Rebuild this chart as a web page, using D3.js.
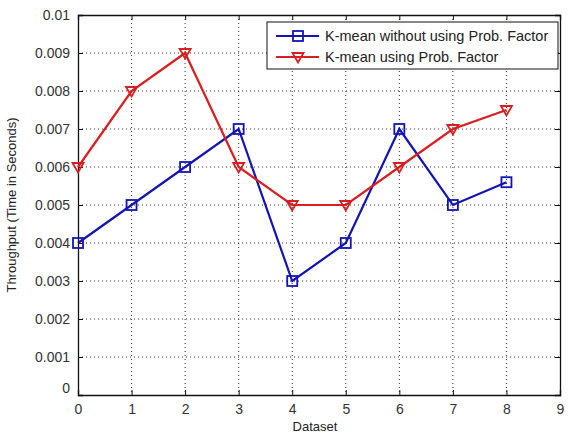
<!doctype html>
<html lang="en">
<head>
    <script src="https://d3js.org/d3.v7.min.js"></script>
    <style type="text/css">
        html, body {
            margin: 0;
            padding: 0;
            background: #fff;
        }
        svg text {
            font-family: "Liberation Sans", Arial, sans-serif;
            fill: #222;
        }
    </style>
</head>
<body>
<svg id="svg" width="568" height="436"></svg>
<script>
    // values
    var datasets = [0, 1, 2, 3, 4, 5, 6, 7, 8];
    var withoutProb = [0.004, 0.005, 0.006, 0.007, 0.003, 0.004, 0.007, 0.005, 0.0056];
    var withProb = [0.006, 0.008, 0.009, 0.006, 0.005, 0.005, 0.006, 0.007, 0.0075];
    var xTicks = [0, 1, 2, 3, 4, 5, 6, 7, 8, 9];
    var yTicks = [0, 0.001, 0.002, 0.003, 0.004, 0.005, 0.006, 0.007, 0.008, 0.009, 0.01];
    var seriesNames = ["K-mean without using Prob. Factor", "K-mean using Prob. Factor"];

    var blue = "#1414b4";
    var red = "#d81e1e";

    var svg = d3.select("#svg");
    // plot box (note: "top" would clash with window.top)
    var pl = 78, pr = 560, pt = 15, pb = 395;

    var x = d3.scaleLinear().domain([0, 9]).range([pl, pr]);
    var y = d3.scaleLinear().domain([0, 0.01]).range([pb, pt]);

    // dotted grid
    var grid = svg.append("g");
    grid.selectAll(".gx").data(xTicks.slice(1, -1)).enter().append("line")
        .attr("x1", function (d) { return x(d); })
        .attr("x2", function (d) { return x(d); })
        .attr("y1", pt).attr("y2", pb)
        .attr("stroke", "#333").attr("stroke-width", 1)
        .attr("stroke-dasharray", "1,3");
    grid.selectAll(".gy").data(yTicks.slice(1, -1)).enter().append("line")
        .attr("y1", function (d) { return y(d); })
        .attr("y2", function (d) { return y(d); })
        .attr("x1", pl).attr("x2", pr)
        .attr("stroke", "#333").attr("stroke-width", 1)
        .attr("stroke-dasharray", "1,3");

    // axes (ticks inside, MATLAB style)
    var fmtY = function (d) { return d === 0 ? "0" : String(+d.toFixed(3)); };
    var xAxis = svg.append("g").attr("transform", "translate(0," + pb + ")")
        .call(d3.axisBottom(x).tickValues(xTicks).tickSize(-5).tickPadding(9).tickFormat(d3.format("d")));
    var xTop = svg.append("g").attr("transform", "translate(0," + pt + ")")
        .call(d3.axisTop(x).tickValues(xTicks).tickSize(-5).tickFormat(""));
    var yAxis = svg.append("g").attr("transform", "translate(" + pl + ",0)")
        .call(d3.axisLeft(y).tickValues(yTicks).tickSize(-5).tickPadding(8).tickFormat(fmtY));
    var yRight = svg.append("g").attr("transform", "translate(" + pr + ",0)")
        .call(d3.axisRight(y).tickValues(yTicks).tickSize(-5).tickFormat(""));

    [xAxis, xTop, yAxis, yRight].forEach(function (g) {
        g.selectAll("path").attr("stroke", "#111").attr("stroke-width", 1.3);
        g.selectAll("line").attr("stroke", "#111");
        g.selectAll("text").style("font-size", "14px").style("fill", "#333")
            .style("font-family", "'Liberation Sans', Arial, sans-serif");
    });
    yAxis.selectAll(".tick").filter(function (d) { return d === 0; }).select("text").attr("dy", "-0.15em");

    // axis labels
    svg.append("text").attr("x", (pl + pr) / 2 - 4).attr("y", 431)
        .attr("text-anchor", "middle").style("font-size", "13px").text("Dataset");
    svg.append("text")
        .attr("transform", "translate(16," + ((pt + pb) / 2) + ") rotate(-90)")
        .attr("text-anchor", "middle").style("font-size", "13px")
        .text("Throughput (Time in Seconds)");

    // series
    var line = d3.line()
        .x(function (d, i) { return x(datasets[i]); })
        .y(function (d) { return y(d); });

    svg.append("path").datum(withoutProb)
        .attr("d", line).attr("fill", "none")
        .attr("stroke", blue).attr("stroke-width", 2.2);
    svg.append("path").datum(withProb)
        .attr("d", line).attr("fill", "none")
        .attr("stroke", red).attr("stroke-width", 2.2);

    var tri = "M-5.5,-4 L5.5,-4 L0,5.5 Z";

    svg.selectAll(".sq").data(withoutProb).enter().append("rect")
        .attr("x", function (d, i) { return x(datasets[i]) - 5; })
        .attr("y", function (d) { return y(d) - 5; })
        .attr("width", 10).attr("height", 10)
        .attr("fill", "none").attr("stroke", blue).attr("stroke-width", 1.8);
    svg.selectAll(".tri").data(withProb).enter().append("path")
        .attr("transform", function (d, i) { return "translate(" + x(datasets[i]) + "," + y(d) + ")"; })
        .attr("d", tri)
        .attr("fill", "none").attr("stroke", red).attr("stroke-width", 1.8);

    // legend
    var lg = svg.append("g").attr("transform", "translate(267,22)");
    lg.append("rect").attr("width", 291).attr("height", 47)
        .attr("fill", "#fff").attr("stroke", "#111").attr("stroke-width", 1);
    var colors = [blue, red];
    seriesNames.forEach(function (name, i) {
        var cy = 14 + i * 21;
        lg.append("line").attr("x1", 9).attr("x2", 52).attr("y1", cy).attr("y2", cy)
            .attr("stroke", colors[i]).attr("stroke-width", 2.2);
        if (i === 0) {
            lg.append("rect").attr("x", 26).attr("y", cy - 5).attr("width", 10).attr("height", 10)
                .attr("fill", "none").attr("stroke", blue).attr("stroke-width", 1.8);
        } else {
            lg.append("path").attr("transform", "translate(31," + cy + ")").attr("d", tri)
                .attr("fill", "none").attr("stroke", red).attr("stroke-width", 1.8);
        }
        lg.append("text").attr("x", 58).attr("y", cy + 5)
            .style("font-size", "14.5px").text(name);
    });
</script>
</body>
</html>
